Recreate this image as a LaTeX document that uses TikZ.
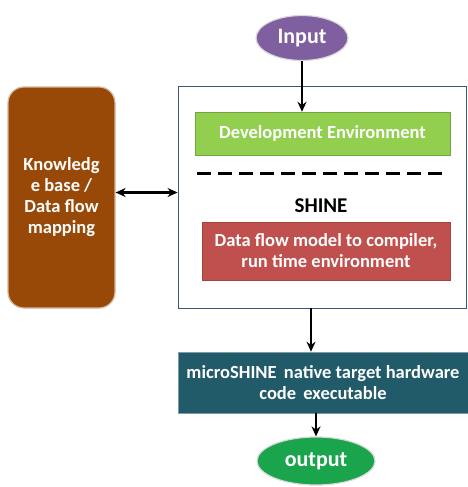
\documentclass[tikz,border=0pt]{standalone}
\usepackage{fontspec}
\setmainfont{Carlito}
\usetikzlibrary{arrows.meta,shapes.geometric}
\definecolor{inpurple}{HTML}{7F5FA0}
\definecolor{devgreen}{HTML}{92CF4E}
\definecolor{dfred}{HTML}{C0504D}
\definecolor{kbbrown}{HTML}{984807}
\definecolor{mteal}{HTML}{215A68}
\definecolor{outgreen}{HTML}{1AA44C}
\definecolor{framecol}{HTML}{3B5677}
\tikzset{
  txt/.style={font=\fontsize{18.5}{21}\selectfont\bfseries, text=white, align=center, inner sep=0pt},
  boxx/.style={txt, draw=none},
  oval/.style={txt, font=\fontsize{22}{24}\selectfont\bfseries, ellipse, draw=white!85!black, line width=1.2pt},
  arr/.style={-{Stealth[length=10pt,width=9pt]}, line width=2.4pt, black},
  darr/.style={{Stealth[length=10pt,width=9pt]}-{Stealth[length=10pt,width=9pt]}, line width=2.4pt, black},
}
\begin{document}
\begin{tikzpicture}[x=1pt,y=-1pt]
\useasboundingbox (0,0) rectangle (467,487);
% frame
\node[draw=framecol, line width=0.9pt, fill=white, minimum width=288pt, minimum height=222pt, inner sep=0pt] (frame) at (322,197) {};
% input
\node[oval, fill=inpurple, minimum width=92pt, minimum height=45pt] (input) at (302,38) {Input};
% green
\node[boxx, fill=devgreen, draw=devgreen!80!black, line width=0.4pt, minimum width=255pt, minimum height=43pt] (dev) at (322.5,133.5) {Development Environment};
% dashed line
\coordinate (d1) at (197,173);
\coordinate (d2) at (447,173);
\draw[line width=3pt, dash pattern=on 14pt off 7pt] (d1) -- (d2);
% SHINE
\node[txt, text=black, font=\fontsize{21}{23}\selectfont\bfseries] (shine) at (321,206) {SHINE};
% red
\node[boxx, fill=dfred, draw=dfred!85!black, line width=0.4pt, minimum width=248pt, minimum height=58pt] (dfm) at (326,251) {Data flow model to compiler,\\run time environment};
% brown
\node[boxx, fill=kbbrown, draw=kbbrown!40!white, line width=1.2pt, rounded corners=16pt, minimum width=107pt, minimum height=221pt] (kb) at (61.5,197.5) {Knowledg\\e base /\\Data flow\\mapping};
% teal
\node[boxx, fill=mteal, draw=mteal!60!white, line width=0.6pt, minimum width=290pt, minimum height=61pt] (micro) at (323,382.5) {microSHINE\, native target hardware\\code\, executable};
% output
\node[oval, fill=outgreen, minimum width=118pt, minimum height=48pt] (output) at (316,461) {output};
% arrows
\draw[arr] (input.south) -- (input.south |- dev.north);
\draw[darr] ([yshift=5pt]kb.east) -- ([yshift=5pt]kb.east -| frame.west);
\draw[arr] ([xshift=-11pt]frame.south) -- ([xshift=-11pt]frame.south |- micro.north);
\draw[arr] (micro.south -| output) -- (output.north);
\end{tikzpicture}
\end{document}
